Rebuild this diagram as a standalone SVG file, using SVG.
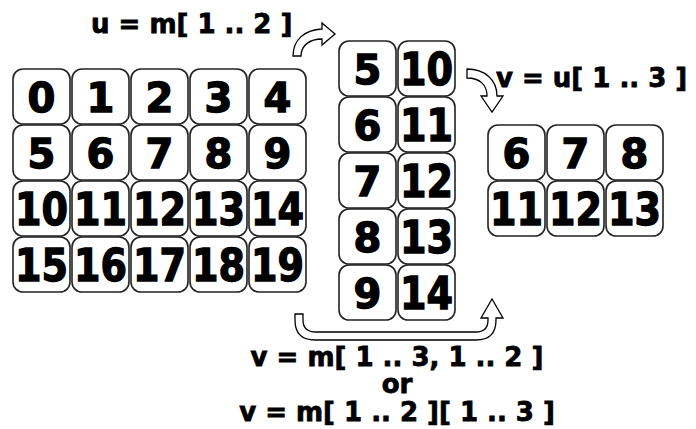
<svg xmlns="http://www.w3.org/2000/svg" width="696" height="429" viewBox="0 0 696 429">
<style>
.c rect{fill:#fff;stroke:#222;stroke-width:1.6}
.c text{font-family:"DejaVu Sans",sans-serif;font-weight:bold;fill:#000;stroke:#000;stroke-width:1.4;text-anchor:middle}
.s{font-size:40px}
.d{font-size:44px}
.lbl{font-family:"DejaVu Sans",sans-serif;font-weight:bold;font-size:26px;fill:#000;stroke:#000;stroke-width:0.8}
.arr path{fill:#fff;stroke:#000;stroke-width:1.3;stroke-linejoin:miter}
</style>
<rect width="696" height="429" fill="#fff"/>
<g id="m" class="c">
<g id="m00"><rect x="13" y="69" width="57" height="55" rx="10"/><text class="s" x="41.5" y="112">0</text></g>
<g id="m01"><rect x="72" y="69" width="57" height="55" rx="10"/><text class="s" x="100.5" y="112">1</text></g>
<g id="m02"><rect x="131" y="69" width="57" height="55" rx="10"/><text class="s" x="159.5" y="112">2</text></g>
<g id="m03"><rect x="190" y="69" width="57" height="55" rx="10"/><text class="s" x="218.5" y="112">3</text></g>
<g id="m04"><rect x="249" y="69" width="57" height="55" rx="10"/><text class="s" x="277.5" y="112">4</text></g>
<g id="m10"><rect x="13" y="125" width="57" height="55" rx="10"/><text class="s" x="41.5" y="168">5</text></g>
<g id="m11"><rect x="72" y="125" width="57" height="55" rx="10"/><text class="s" x="100.5" y="168">6</text></g>
<g id="m12"><rect x="131" y="125" width="57" height="55" rx="10"/><text class="s" x="159.5" y="168">7</text></g>
<g id="m13"><rect x="190" y="125" width="57" height="55" rx="10"/><text class="s" x="218.5" y="168">8</text></g>
<g id="m14"><rect x="249" y="125" width="57" height="55" rx="10"/><text class="s" x="277.5" y="168">9</text></g>
<g id="m20"><rect x="13" y="181" width="57" height="55" rx="10"/><text class="d" x="41.5" y="225" textLength="53" lengthAdjust="spacingAndGlyphs">10</text></g>
<g id="m21"><rect x="72" y="181" width="57" height="55" rx="10"/><text class="d" x="100.5" y="225" textLength="53" lengthAdjust="spacingAndGlyphs">11</text></g>
<g id="m22"><rect x="131" y="181" width="57" height="55" rx="10"/><text class="d" x="159.5" y="225" textLength="53" lengthAdjust="spacingAndGlyphs">12</text></g>
<g id="m23"><rect x="190" y="181" width="57" height="55" rx="10"/><text class="d" x="218.5" y="225" textLength="53" lengthAdjust="spacingAndGlyphs">13</text></g>
<g id="m24"><rect x="249" y="181" width="57" height="55" rx="10"/><text class="d" x="277.5" y="225" textLength="53" lengthAdjust="spacingAndGlyphs">14</text></g>
<g id="m30"><rect x="13" y="237" width="57" height="55" rx="10"/><text class="d" x="41.5" y="281" textLength="53" lengthAdjust="spacingAndGlyphs">15</text></g>
<g id="m31"><rect x="72" y="237" width="57" height="55" rx="10"/><text class="d" x="100.5" y="281" textLength="53" lengthAdjust="spacingAndGlyphs">16</text></g>
<g id="m32"><rect x="131" y="237" width="57" height="55" rx="10"/><text class="d" x="159.5" y="281" textLength="53" lengthAdjust="spacingAndGlyphs">17</text></g>
<g id="m33"><rect x="190" y="237" width="57" height="55" rx="10"/><text class="d" x="218.5" y="281" textLength="53" lengthAdjust="spacingAndGlyphs">18</text></g>
<g id="m34"><rect x="249" y="237" width="57" height="55" rx="10"/><text class="d" x="277.5" y="281" textLength="53" lengthAdjust="spacingAndGlyphs">19</text></g>
</g>
<g id="u" class="c">
<g id="u00"><rect x="339" y="41" width="57" height="55" rx="10"/><text class="s" x="367.5" y="84">5</text></g>
<g id="u01"><rect x="398" y="41" width="57" height="55" rx="10"/><text class="d" x="426.5" y="85" textLength="53" lengthAdjust="spacingAndGlyphs">10</text></g>
<g id="u10"><rect x="339" y="97" width="57" height="55" rx="10"/><text class="s" x="367.5" y="140">6</text></g>
<g id="u11"><rect x="398" y="97" width="57" height="55" rx="10"/><text class="d" x="426.5" y="141" textLength="53" lengthAdjust="spacingAndGlyphs">11</text></g>
<g id="u20"><rect x="339" y="153" width="57" height="55" rx="10"/><text class="s" x="367.5" y="196">7</text></g>
<g id="u21"><rect x="398" y="153" width="57" height="55" rx="10"/><text class="d" x="426.5" y="197" textLength="53" lengthAdjust="spacingAndGlyphs">12</text></g>
<g id="u30"><rect x="339" y="209" width="57" height="55" rx="10"/><text class="s" x="367.5" y="252">8</text></g>
<g id="u31"><rect x="398" y="209" width="57" height="55" rx="10"/><text class="d" x="426.5" y="253" textLength="53" lengthAdjust="spacingAndGlyphs">13</text></g>
<g id="u40"><rect x="339" y="265" width="57" height="55" rx="10"/><text class="s" x="367.5" y="308">9</text></g>
<g id="u41"><rect x="398" y="265" width="57" height="55" rx="10"/><text class="d" x="426.5" y="309" textLength="53" lengthAdjust="spacingAndGlyphs">14</text></g>
</g>
<g id="v" class="c">
<g id="v00"><rect x="488" y="125" width="57" height="55" rx="10"/><text class="s" x="516.5" y="168">6</text></g>
<g id="v01"><rect x="547" y="125" width="57" height="55" rx="10"/><text class="s" x="575.5" y="168">7</text></g>
<g id="v02"><rect x="606" y="125" width="57" height="55" rx="10"/><text class="s" x="634.5" y="168">8</text></g>
<g id="v10"><rect x="488" y="181" width="57" height="55" rx="10"/><text class="d" x="516.5" y="225" textLength="53" lengthAdjust="spacingAndGlyphs">11</text></g>
<g id="v11"><rect x="547" y="181" width="57" height="55" rx="10"/><text class="d" x="575.5" y="225" textLength="53" lengthAdjust="spacingAndGlyphs">12</text></g>
<g id="v12"><rect x="606" y="181" width="57" height="55" rx="10"/><text class="d" x="634.5" y="225" textLength="53" lengthAdjust="spacingAndGlyphs">13</text></g>
</g>
<g id="connectors" class="arr">
<path id="a1" d="M293,56 C293,40 304,30 322,29 L322,23 L335,34 L322,45 L322,39 C310,39 301,45 301,56 Z"/>
<path id="a2" d="M467,69 C485,69 497,80 497,96 L503,96 L492,112 L481,96 L487,96 C487,85 480,78 467,78 Z"/>
<path id="a3" d="M295,314 L295,320 Q295,340 315,340 L476,340 Q496,340 496,320 L496,318 L503,318 L492,299 L481,318 L488,318 L488,320 Q488,332 476,332 L316,332 Q303,332 303,320 L303,314 Z"/>
</g>
<g id="labels">
<text class="lbl" x="91" y="33">u = m[ 1 .. 2 ]</text>
<text class="lbl" x="496" y="87">v = u[ 1 .. 3 ]</text>
<text class="lbl" text-anchor="middle"><tspan x="397" y="366">v = m[ 1 .. 3, 1 .. 2 ]</tspan><tspan x="397" y="393">or</tspan><tspan x="397" y="421">v = m[ 1 .. 2 ][ 1 .. 3 ]</tspan></text>
</g>
</svg>
